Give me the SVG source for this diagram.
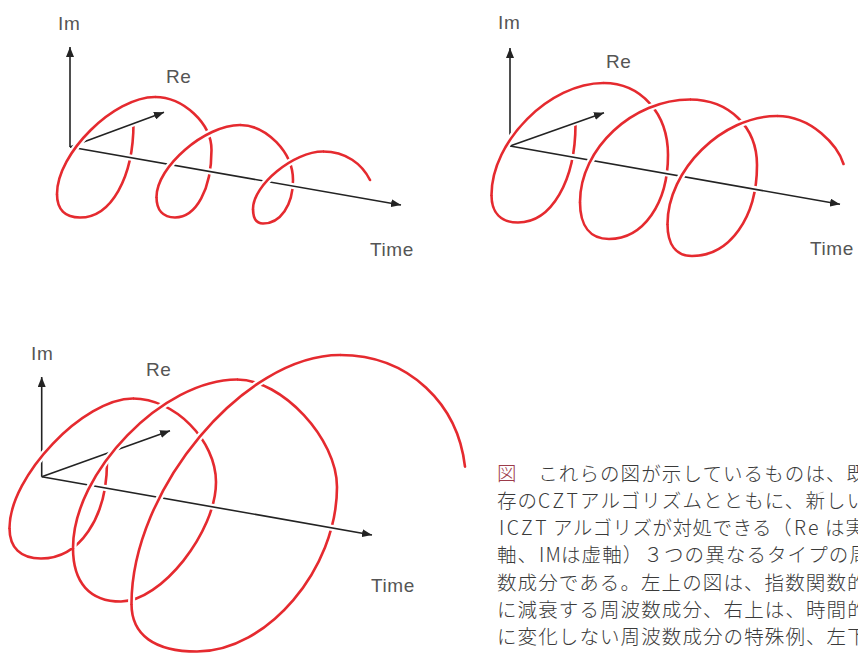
<svg xmlns="http://www.w3.org/2000/svg" xmlns:xlink="http://www.w3.org/1999/xlink" width="858" height="653" viewBox="0 0 858 653">
<style>
.red{fill:none;stroke:#e52a2f;stroke-width:2.6;stroke-linecap:round;stroke-linejoin:round}
.halo{fill:none;stroke:#fff;stroke-width:7;stroke-linecap:butt}
.ax{fill:none;stroke:#232323;stroke-width:1.6}
.axh{fill:none;stroke:#fff;stroke-width:6}
.lbl{font-family:"Liberation Sans",Arial,sans-serif;font-size:19px;fill:#555;letter-spacing:0.6px}
.cap{font-family:"Noto Sans CJK JP","Noto Sans",sans-serif;font-size:19.5px;font-weight:300;fill:#3a3a3a;letter-spacing:1.1px}
.lat{letter-spacing:2.4px}
.tight{letter-spacing:0.5px}
.fig{fill:#9c3b4a}
</style>
<defs>
<marker id="ah" viewBox="0 0 10 8" refX="10" refY="4" markerWidth="10" markerHeight="8" markerUnits="userSpaceOnUse" orient="auto">
<path d="M0,0 L10,4 L0,8 Z" fill="#232323"/>
</marker>
<path id="p1f1" d="M57,194 C57,153.3 113.8,97 155,97"/>
<path id="p1f2" d="M156.5,197 C156.5,166.8 204.9,125 240,125"/>
<path id="p1f3" d="M253,209 C253,184.9 293.6,151.5 323,151.5"/>
<path id="p2f1" d="M491.5,195 C491.5,141.2 549.7,83 603.5,83"/>
<path id="p2f2" d="M580,202 C580,148.7 632.8,99.5 690,99.5"/>
<path id="p2f3" d="M667.5,224 C667.5,170 722.25,116 777,116"/>
<path id="p3f1" d="M9.5,528 C9.5,476.2 83.6,398.5 133,398.5"/>
<path id="p3f2" d="M73,548 C73,472.2 163.2,379.5 237,379.5"/>
<path id="p3f3" d="M131.5,604 C131.5,489.5 244.1,355 340,355"/>
</defs>

<g id="panel-decaying">
<path class="red" d="M133.5,123 C133.5,177.8 111,217.5 80,217.5 C65,217.5 57,209.3 57,194 C57,153.3 113.8,97 155,97 C183.3,97 211.5,123.5 211.5,150 C211.5,189.2 196.2,217.5 175,217.5 C163,217.5 156.5,210.3 156.5,197 C156.5,166.8 204.9,125 240,125 C266.5,125 293,152.5 293,180 C293,205.2 280.4,223.5 263,223.5 C256.5,223.5 253,218.4 253,209 C253,184.9 293.6,151.5 323,151.5 C346,151.5 362,164 370,180"/>
<g id="axes-1">
<path class="axh" d="M70,147 L70,52 M70,147 L396,204 M70,147 L159,114"/>
<path class="ax" d="M70,147 L70,47" marker-end="url(#ah)"/>
<path class="ax" d="M70,147 L401,205" marker-end="url(#ah)"/>
<path class="ax" d="M70,147 L164,112.3" marker-end="url(#ah)"/>
</g>
<use href="#p1f1" class="halo"/><use href="#p1f1" class="red"/>
<use href="#p1f2" class="halo"/><use href="#p1f2" class="red"/>
<use href="#p1f3" class="halo"/><use href="#p1f3" class="red"/>
<text class="lbl" x="58" y="30">Im</text>
<text class="lbl" x="166" y="83">Re</text>
<text class="lbl" x="370" y="256">Time</text>
</g>

<g id="panel-constant">
<path class="red" d="M575.5,124 C575.5,181.1 551.4,222.5 518,222.5 C500.8,222.5 491.5,212.9 491.5,195 C491.5,141.2 549.7,83 603.5,83 C640.9,83 668,113.2 668,155 C668,203.7 643.2,239 609,239 C590.2,239 580,226 580,202 C580,148.7 632.8,99.5 690,99.5 C728.9,99.5 757,127 757,165 C757,217.8 729.7,256 692,256 C676.1,256 667.5,244.8 667.5,224 C667.5,170 722.25,116 777,116 C812,116 838,146 843.5,164"/>
<g id="axes-2">
<path class="axh" d="M510,146 L510,53 M510,146 L835,203 M510,146 L599,114"/>
<path class="ax" d="M510,146 L510,48" marker-end="url(#ah)"/>
<path class="ax" d="M510,146 L840,204.3" marker-end="url(#ah)"/>
<path class="ax" d="M510,146 L604,112.7" marker-end="url(#ah)"/>
</g>
<use href="#p2f1" class="halo"/><use href="#p2f1" class="red"/>
<use href="#p2f2" class="halo"/><use href="#p2f2" class="red"/>
<use href="#p2f3" class="halo"/><use href="#p2f3" class="red"/>
<text class="lbl" x="498" y="29">Im</text>
<text class="lbl" x="606" y="68">Re</text>
<text class="lbl" x="810" y="255">Time</text>
</g>

<g id="panel-growing">
<path class="red" d="M107,462 C107,518 79.3,558.5 41,558.5 C20.5,558.5 9.5,547.8 9.5,528 C9.5,476.2 83.6,398.5 133,398.5 C174.5,398.5 216,440.25 216,482 C216,532.2 160.9,601.5 121,601.5 C89.8,601.5 73,582.8 73,548 C73,472.2 163.2,379.5 237,379.5 C282,379.5 337,438.6 337,487 C337,569.25 267,651.5 197,651.5 C154.4,651.5 131.5,634.9 131.5,604 C131.5,489.5 244.1,355 340,355 C410,355 458,405 465,466.7"/>
<g id="axes-3">
<path class="axh" d="M41.7,476.7 L41.7,382 M41.7,476.7 L367,534 M41.7,476.7 L165,432.5"/>
<path class="ax" d="M41.7,476.7 L41.7,377" marker-end="url(#ah)"/>
<path class="ax" d="M41.7,476.7 L372,535" marker-end="url(#ah)"/>
<path class="ax" d="M41.7,476.7 L170,430.7" marker-end="url(#ah)"/>
</g>
<use href="#p3f1" class="halo"/><use href="#p3f1" class="red"/>
<use href="#p3f2" class="halo"/><use href="#p3f2" class="red"/>
<use href="#p3f3" class="halo"/><use href="#p3f3" class="red"/>
<text class="lbl" x="31" y="360">Im</text>
<text class="lbl" x="146" y="376">Re</text>
<text class="lbl" x="371" y="591.5">Time</text>
</g>

<g id="caption">
<text class="cap" y="481"><tspan x="497" class="fig">図</tspan><tspan>　これらの図が示しているものは、既</tspan></text>
<text class="cap" y="508"><tspan x="497">存の</tspan><tspan x="538" class="lat">CZT</tspan><tspan x="580">アルゴリズムとともに、新しい</tspan></text>
<text class="cap" y="535"><tspan x="499" class="lat">ICZT</tspan><tspan x="553" class="tight">アルゴリズが対処できる（</tspan><tspan x="794" class="lat">Re</tspan><tspan x="825">は実</tspan></text>
<text class="cap" y="562"><tspan x="497">軸、</tspan><tspan x="539">IM</tspan><tspan x="561">は虚軸）３つの異なるタイプの周波</tspan></text>
<text class="cap" y="590" x="497">数成分である。左上の図は、指数関数的</text>
<text class="cap" y="617" x="497">に減衰する周波数成分、右上は、時間的</text>
<text class="cap" y="644" x="497">に変化しない周波数成分の特殊例、左下</text>
</g>
</svg>
